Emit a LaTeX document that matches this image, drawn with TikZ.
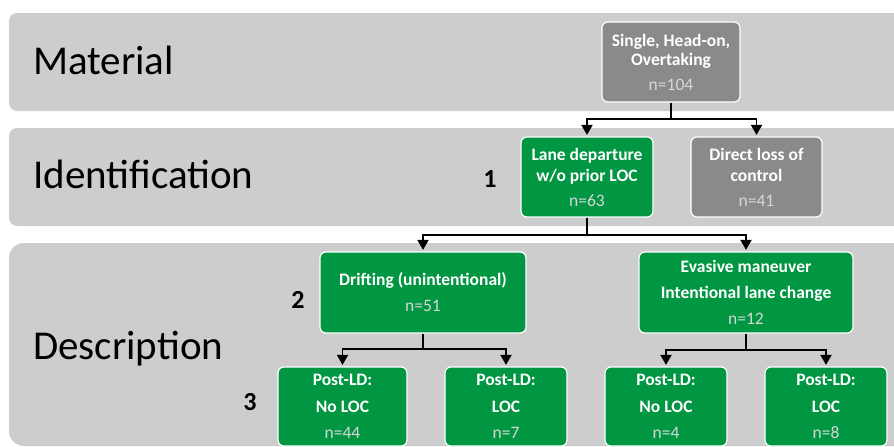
\documentclass[tikz,border=0pt]{standalone}
\usepackage{fontspec}
\setmainfont{Carlito}
\usetikzlibrary{arrows.meta}
\definecolor{bandgray}{RGB}{205,205,205}
\definecolor{boxgray}{RGB}{138,138,138}
\definecolor{boxgreen}{RGB}{0,150,66}
\definecolor{ncol}{RGB}{215,215,215}
\tikzset{
  band/.style={fill=bandgray, draw=none},
  bandlabel/.style={anchor=base west, inner sep=0pt, font=\fontsize{41}{46}\selectfont, text=black},
  numlabel/.style={inner sep=0pt, font=\fontsize{26}{29}\selectfont\bfseries, text=black},
  flowbox/.style={draw=white, line width=1.2pt, rounded corners=6pt, inner sep=0pt,
     align=center, text=white, font=\fontsize{17.5}{20}\selectfont\bfseries},
  greenbox/.style={flowbox, fill=boxgreen},
  graybox/.style={flowbox, fill=boxgray},
  conn/.style={line width=1.8pt, draw=black},
  arr/.style={conn, -{Triangle[width=11pt,length=10pt]}, shorten >=1.5pt},
}
\newcommand{\nval}[1]{{\mdseries\color{ncol}#1}}
\begin{document}
\begin{tikzpicture}[x=1pt,y=-1pt]
\useasboundingbox (0,0) rectangle (894,447);
\fill[white] (0,0) rectangle (894,447);
\begin{scope}
\clip (0,0) rectangle (894,447);
\path[band, rounded corners=8pt] (9,13) rectangle (910,111);
\path[band, rounded corners=8pt] (9,128) rectangle (910,226);
\path[band, rounded corners=15pt] (9,243) rectangle (910,446);
\end{scope}

\node[bandlabel] (lmat) at (33,74) {Material};
\node[bandlabel] (lid) at (33,188) {Identification};
\node[bandlabel] (ldesc) at (33,359) {Description};

\node[numlabel] (n1) at (490,179) {1};
\node[numlabel] (n2) at (298,300) {2};
\node[numlabel] (n3) at (250,402) {3};

\node[graybox, minimum width=138pt, minimum height=80pt] (top) at (671,62)
  {Single, Head-on,\\[-1pt]Overtaking\\[5pt]\nval{n=104}};
\node[greenbox, minimum width=132pt, minimum height=80pt] (lane) at (587,177)
  {Lane departure\\[1pt]w/o prior LOC\\[5pt]\nval{n=63}};
\node[graybox, minimum width=131pt, minimum height=80pt] (direct) at (756.5,177)
  {Direct loss of\\[1pt]control\\[5pt]\nval{n=41}};
\node[greenbox, minimum width=206pt, minimum height=81pt] (drift) at (423,292.5)
  {Drifting (unintentional)\\[6pt]\nval{n=51}};
\node[greenbox, minimum width=214pt, minimum height=81pt] (evas) at (746,292.5)
  {Evasive maneuver\\[6pt]Intentional lane change\\[6pt]\nval{n=12}};
\node[greenbox, minimum width=129pt, minimum height=79pt] (b1) at (342.5,406.5)
  {Post-LD:\\[7pt]No LOC\\[6pt]\nval{n=44}};
\node[greenbox, minimum width=122pt, minimum height=79pt] (b2) at (506,406.5)
  {Post-LD:\\[7pt]LOC\\[6pt]\nval{n=7}};
\node[greenbox, minimum width=122pt, minimum height=79pt] (b3) at (666,406.5)
  {Post-LD:\\[7pt]No LOC\\[6pt]\nval{n=4}};
\node[greenbox, minimum width=122pt, minimum height=79pt] (b4) at (826,406.5)
  {Post-LD:\\[7pt]LOC\\[6pt]\nval{n=8}};

\draw[conn] (top.south) -- ++(0,16) coordinate (j1);
\draw[arr] (j1) -| (lane.north);
\draw[arr] (j1) -| (direct.north);

\draw[conn] (lane.south) -- ++(0,17) coordinate (j2);
\draw[arr] (j2) -| (drift.north);
\draw[arr] (j2) -| (evas.north);

\draw[conn] (drift.south) -- ++(0,15) coordinate (j3);
\draw[arr] (j3) -| (b1.north);
\draw[arr] (j3) -| (b2.north);

\draw[conn] (evas.south) -- ++(0,16) coordinate (j4);
\draw[arr] (j4) -| (b3.north);
\draw[arr] (j4) -| (b4.north);
\end{tikzpicture}
\end{document}
